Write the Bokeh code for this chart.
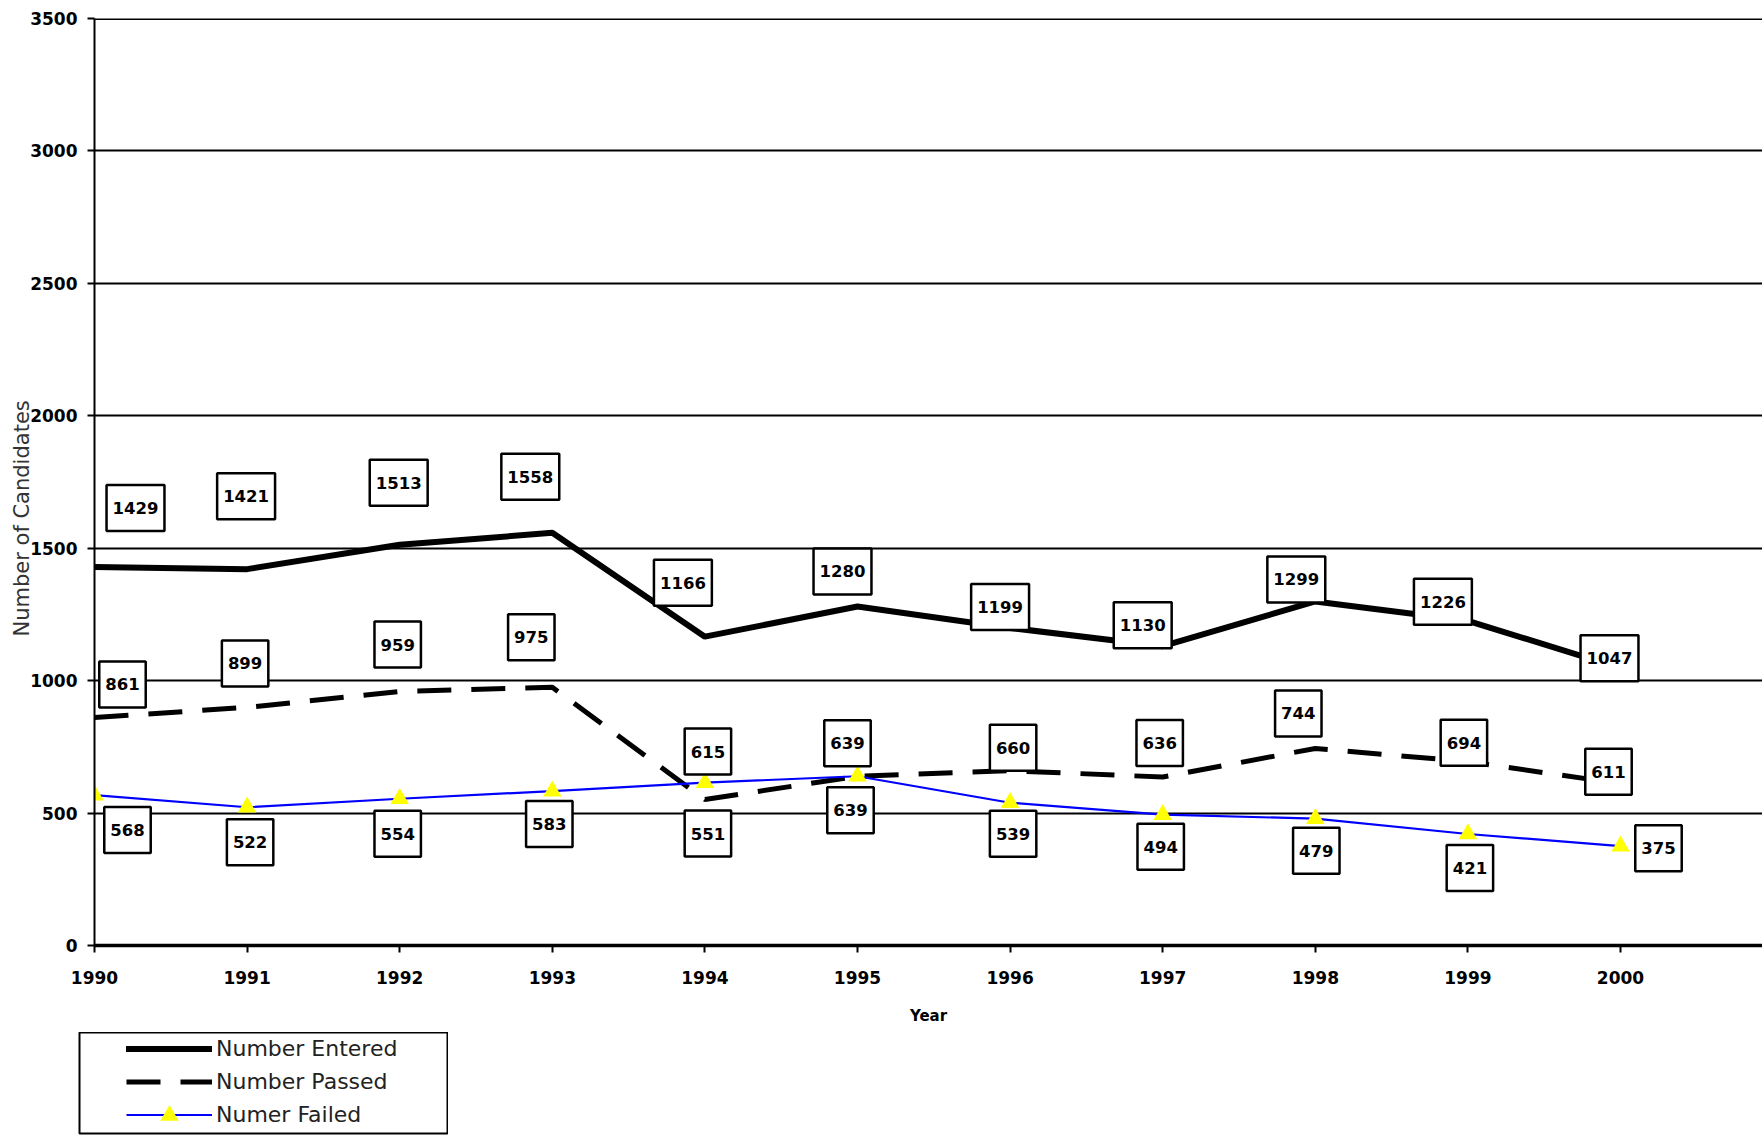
from bokeh.plotting import figure
from bokeh.layouts import column
from bokeh.models import (ColumnDataSource, Legend, LegendItem, Title,
                          FixedTicker, Range1d, Span)
from bokeh.core.properties import value
from bokeh.embed import file_html
from bokeh.resources import INLINE

# ---------------- data ----------------
years = [1990, 1991, 1992, 1993, 1994, 1995, 1996, 1997, 1998, 1999, 2000]
entered = [1429, 1421, 1513, 1558, 1166, 1280, 1199, 1130, 1299, 1226, 1047]
passed = [861, 899, 959, 975, 551, 639, 660, 636, 744, 694, 611]
failed = [568, 522, 554, 583, 615, 639, 539, 494, 479, 421, 375]
y_ticks = [0, 500, 1000, 1500, 2000, 2500, 3000, 3500]
series_names = ["Number Entered", "Number Passed", "Numer Failed"]

# data-label offsets in screen pixels (+ = right / down)
entered_dx = [41, -1, -1, -22, -22, -15, -10, -20, -19, -25, -11]
entered_dy = [-59, -73, -62, -56, -54, -35, -21, -21, -22, -19, -10]
passed_dx = [28, -2, -2, -21, 3, -7, 3, -3, -17, -4, -12]
passed_dy = [-33, -44, -47, -50, 34, 34, -23, -34, -35, -19, -12]
failed_dx = [33, 3, -2, -3, 3, -10, 3, -2, 1, 2, 38]
failed_dy = [35, 35, 35, 33, -31, -33, 31, 32, 32, 34, 2]

# ---------------- styles ----------------
ENT = dict(line_color="black", line_width=6, line_cap="round")
PAS = dict(line_color="black", line_width=5, line_dash="34 20")
FAI = dict(line_color="#0000ff", line_width=2.2)
MRK = dict(marker="triangle", size=18.5, fill_color="#ffff00", line_color=None)

# ---------------- main figure ----------------
W, H = 1762, 1032
FRAME_LEFT, FRAME_TOP, FRAME_H = 94, 18, 927
PX_PER_YEAR = 152.6
x_end = years[0] + (W - FRAME_LEFT) / PX_PER_YEAR

p = figure(width=W, height=H, output_backend="svg", toolbar_location=None,
           x_range=Range1d(years[0], x_end), y_range=Range1d(0, 3500),
           min_border_left=FRAME_LEFT, min_border_right=0, min_border_top=FRAME_TOP,
           min_border_bottom=H - FRAME_TOP - FRAME_H)
p.frame_align = False
p.outline_line_color = None
p.background_fill_color = "white"
p.border_fill_color = "white"

for ax in (p.xaxis[0], p.yaxis[0]):
    ax.major_tick_in = 0
    ax.major_tick_out = 7
    ax.major_tick_line_color = "black"
    ax.major_tick_line_width = 2
    ax.minor_tick_line_color = None
    ax.axis_line_color = "black"
    ax.major_label_text_font = "DejaVu Sans"
    ax.major_label_text_font_style = "bold"
    ax.major_label_text_font_size = "17px"
    ax.major_label_text_color = "black"

p.yaxis[0].ticker = FixedTicker(ticks=y_ticks)
p.yaxis[0].axis_line_width = 2
p.yaxis[0].major_label_standoff = 10
p.xaxis[0].ticker = FixedTicker(ticks=years)
p.xaxis[0].axis_line_width = 3.5
p.xaxis[0].major_label_standoff = 18
p.xaxis[0].axis_label = "Year"
p.xaxis[0].axis_label_text_font = "DejaVu Sans"
p.xaxis[0].axis_label_text_font_style = "bold"
p.xaxis[0].axis_label_text_font_size = "15px"
p.xaxis[0].axis_label_text_color = "black"
p.xaxis[0].axis_label_standoff = 20

p.add_layout(Title(text="Number of Candidates", align="left", offset=309, standoff=-12,
                   text_font="DejaVu Sans", text_font_style="normal",
                   text_font_size="21px", text_color="#333333"), "left")

p.xgrid.grid_line_color = None
p.ygrid.grid_line_color = "black"
p.ygrid.grid_line_width = 2
p.ygrid.ticker = FixedTicker(ticks=y_ticks)
p.add_layout(Span(location=y_ticks[-1], dimension="width", line_color="black", line_width=3))

# ---------------- series ----------------
p.line(years, entered, **ENT)
p.line(years, passed, **PAS)
p.line(years, failed, **FAI)
p.scatter(years, failed, **MRK)

# ---------------- data labels ----------------
lab_x, lab_y, lab_t, lab_dx, lab_dy = [], [], [], [], []
for vals, dxs, dys in ((entered, entered_dx, entered_dy),
                       (passed, passed_dx, passed_dy),
                       (failed, failed_dx, failed_dy)):
    for yr, v, dx, dy in zip(years, vals, dxs, dys):
        lab_x.append(yr)
        lab_y.append(v)
        lab_t.append(str(v))
        lab_dx.append(dx)
        lab_dy.append(dy)

lab_src = ColumnDataSource(dict(x=lab_x, y=lab_y, t=lab_t, dx=lab_dx, dy=lab_dy))
p.text(x="x", y="y", text="t", x_offset="dx", y_offset="dy", source=lab_src,
       text_align="center", text_baseline="middle",
       text_font=value("DejaVu Sans"), text_font_style="bold", text_font_size="16.5px",
       text_color="black", background_fill_color="white",
       border_line_color="black", border_line_width=2.5,
       padding=dict(left=6, right=6, top=17, bottom=17))

# ---------------- legend (separate boxed panel) ----------------
LW, LH = 448, 1135 - H
p2 = figure(width=LW, height=LH, output_backend="svg", toolbar_location=None,
            x_range=Range1d(0, 1), y_range=Range1d(0, 1),
            x_axis_type=None, y_axis_type=None,
            min_border_left=79, min_border_right=0, min_border_top=0, min_border_bottom=2)
p2.frame_align = False
p2.grid.visible = False
p2.outline_line_color = "black"
p2.outline_line_width = 2
p2.background_fill_color = "white"
p2.border_fill_color = "white"

# legend proxies (kept outside the visible range of this panel)
proxy = [2]
l_ent = p2.line(proxy, proxy, **ENT)
l_pas = p2.line(proxy, proxy, **PAS)
l_fai = p2.line(proxy, proxy, **FAI)
l_mrk = p2.scatter(proxy, proxy, **MRK)

legend = Legend(items=[LegendItem(label=series_names[0], renderers=[l_ent]),
                       LegendItem(label=series_names[1], renderers=[l_pas]),
                       LegendItem(label=series_names[2], renderers=[l_fai])],
                location=(47, 2), border_line_color=None, background_fill_alpha=0,
                glyph_width=86, glyph_height=33, label_height=28, label_standoff=4,
                spacing=0, padding=0, margin=0,
                label_text_font="DejaVu Sans", label_text_font_size="22px",
                label_text_color="#222222")
p2.add_layout(legend)

# larger marker sample for the third entry, centred on the same row
legend_mrk = Legend(items=[LegendItem(label=" ", renderers=[l_mrk])],
                    location=(47, -4.5), border_line_color=None, background_fill_alpha=0,
                    glyph_width=86, glyph_height=46, label_height=46, label_standoff=0,
                    spacing=0, padding=0, margin=0, label_text_font_size="10px")
p2.add_layout(legend_mrk)

layout = column(p, p2, spacing=0)
open("out.html", "w").write(file_html(layout, INLINE))
